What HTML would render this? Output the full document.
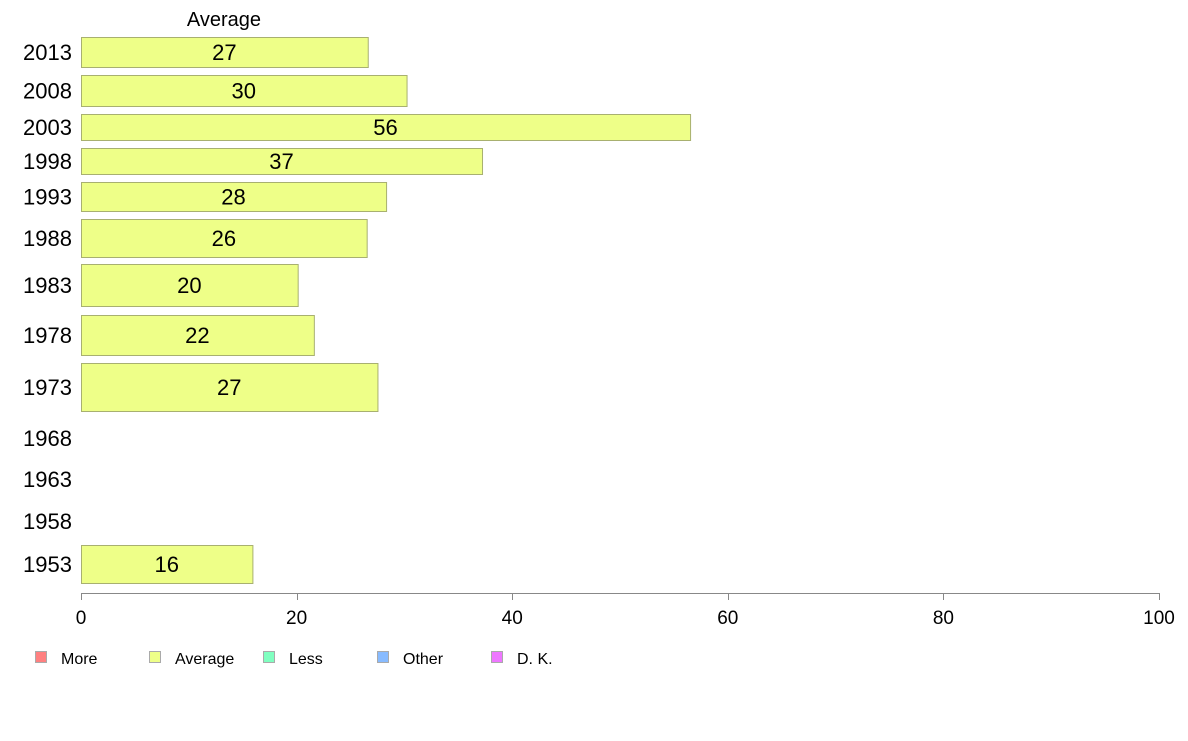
<!DOCTYPE html>
<html><head><meta charset="utf-8"><style>
body{margin:0;background:#fff}
svg text{font-family:"Liberation Sans",Arial,sans-serif}
</style></head><body>
<svg id="chart" width="1188" height="736" viewBox="0 0 1188 736" xmlns="http://www.w3.org/2000/svg">
<text x="224" y="26" font-size="20" text-anchor="middle">Average</text>
<g id="bars"></g>
<g id="axis"></g>
<g id="legend"></g>
</svg>
<script>
const years = ["2013","2008","2003","1998","1993","1988","1983","1978","1973","1968","1963","1958","1953"];
const values = [26.6,30.2,56.5,37.2,28.3,26.5,20.1,21.6,27.5,null,null,null,15.9];
const labels = ["27","30","56","37","28","26","20","22","27","","","","16"];
const ticks = [0,20,40,60,80,100];
const legendNames = ["More","Average","Less","Other","D. K."];
const legendColors = ["#ff8080","#eeff88","#80ffc0","#88bbff","#ee77ff"];
// layout (band extents, px)
const bandTop =    [37,75,114,148,182,219,264,315,363,425,466,508,545];
const bandBottom = [67,106,140,174,211,257,306,355,411,451,492,534,583];

const NS="http://www.w3.org/2000/svg";
const x0=81,x1=1159;
const xs=v=>x0+(x1-x0)*v/100;
function mk(tag,attrs,parent){const e=document.createElementNS(NS,tag);for(const k in attrs)e.setAttribute(k,attrs[k]);parent.appendChild(e);return e;}
const gb=document.getElementById('bars');
years.forEach((y,i)=>{
  const cy=(bandTop[i]+bandBottom[i])/2;
  const t=mk('text',{x:72,y:cy+8,'font-size':22,'text-anchor':'end'},gb);
  
  
  t.textContent=y;
  if(values[i]!=null){
    const r=mk('rect',{x:x0+0.5,y:bandTop[i]+0.5,width:xs(values[i])-x0,height:bandBottom[i]-bandTop[i],fill:'#eeff88',stroke:'#a8b070','stroke-width':1},gb);
    
    
    const v=mk('text',{x:(x0+xs(values[i]))/2,y:cy+8,'font-size':22,'text-anchor':'middle'},gb);
    
    
    v.textContent=labels[i];
  }
});
const ga=document.getElementById('axis');
const al=mk('line',{x1:x0,x2:x1,y1:593.5,y2:593.5,stroke:'#888','stroke-width':1},ga);


ticks.forEach(t=>{
  const x=Math.round(xs(t))+0.5;
  const tl=mk('line',{x1:x,x2:x,y1:593,y2:600,stroke:'#888','stroke-width':1},ga);
  
  
  const tx=mk('text',{x:xs(t),y:624,'font-size':19,'text-anchor':'middle'},ga);
  
  
  tx.textContent=t;
});
const gl=document.getElementById('legend');
const lx=[35,149,263,377,491];
legendNames.forEach((n,i)=>{
  const g=mk('g',{},gl);
  
  
  mk('rect',{x:lx[i]+0.5,y:651.5,width:11,height:11,fill:legendColors[i],stroke:'#aaa','stroke-width':1},g);
  const t=mk('text',{x:lx[i]+26,y:664,'font-size':16},g);
  t.textContent=n;
});
</script>
</body></html>
